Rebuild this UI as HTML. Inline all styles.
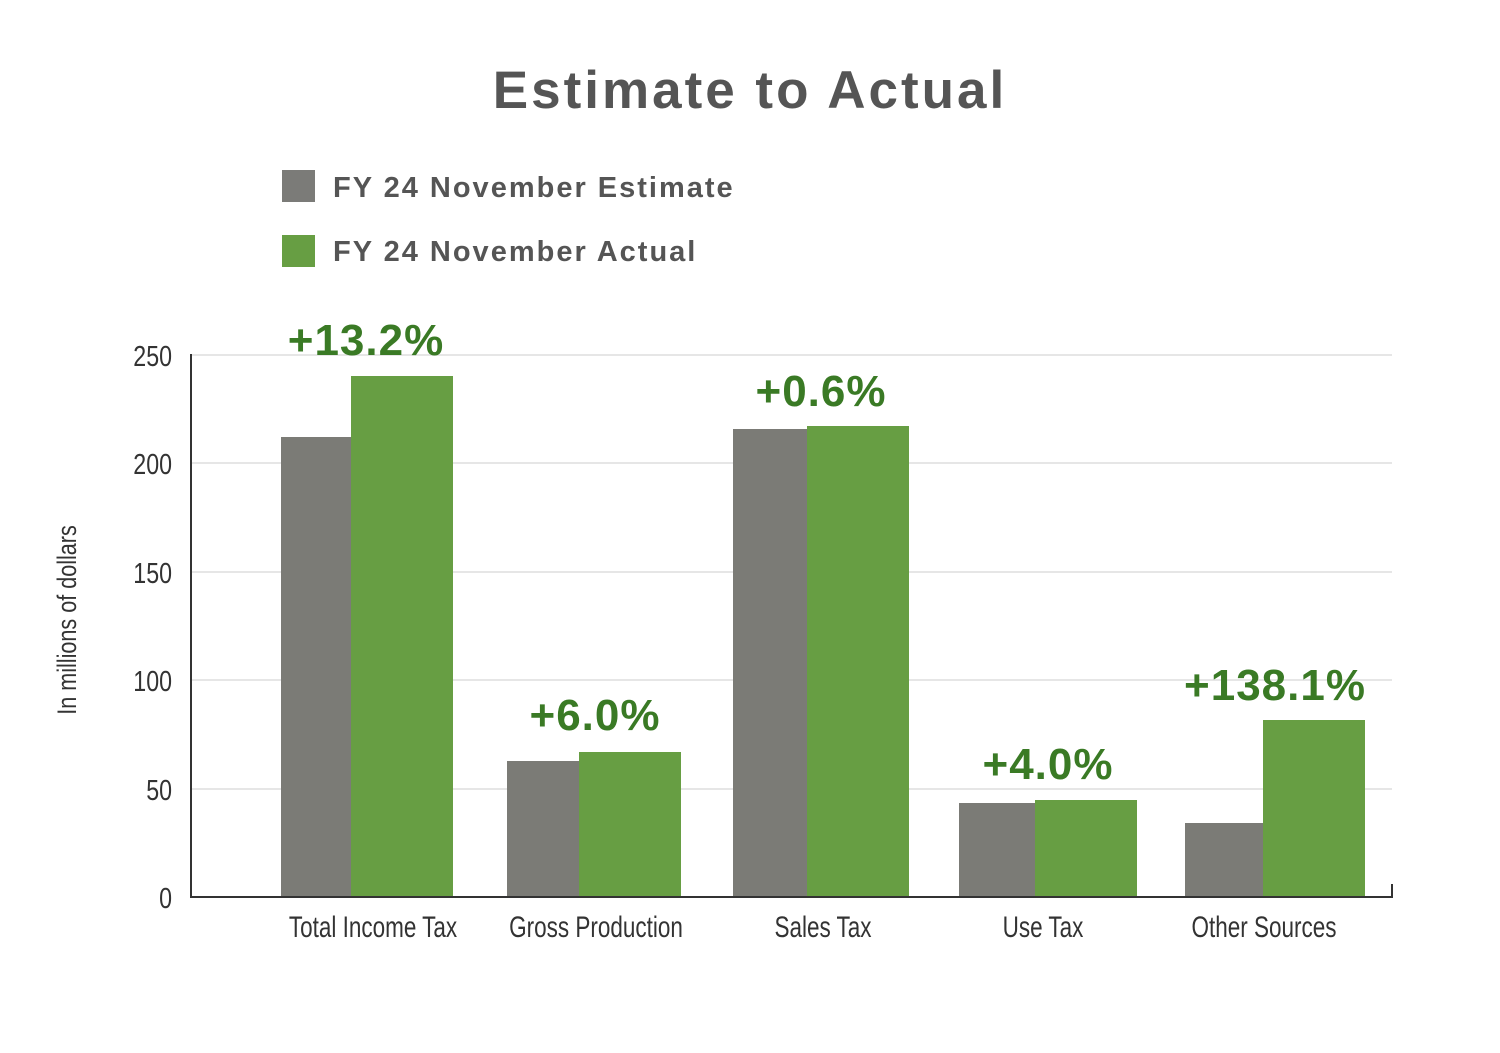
<!DOCTYPE html>
<html><head><meta charset="utf-8"><style>
html,body{margin:0;padding:0;background:#fff;}
svg{display:block;}
</style></head><body>
<svg width="1500" height="1053" viewBox="0 0 1500 1053" xmlns="http://www.w3.org/2000/svg">
<rect width="1500" height="1053" fill="#fff"/>
<text x="750" y="108" text-anchor="middle" font-family="Liberation Sans, sans-serif" font-weight="bold" font-size="53" letter-spacing="3" fill="#555555">Estimate to Actual</text>
<rect x="282" y="170" width="33" height="32" fill="#7b7b78"/>
<text x="333" y="197" font-family="Liberation Sans, sans-serif" font-weight="bold" font-size="29" letter-spacing="2" fill="#555555">FY 24 November Estimate</text>
<rect x="282" y="235" width="33" height="32" fill="#679e43"/>
<text x="333" y="261" font-family="Liberation Sans, sans-serif" font-weight="bold" font-size="29" letter-spacing="2" fill="#555555">FY 24 November Actual</text>
<g stroke="#e6e6e6" stroke-width="2">
<line x1="191" y1="355" x2="1392" y2="355"/>
<line x1="191" y1="463" x2="1392" y2="463"/>
<line x1="191" y1="572" x2="1392" y2="572"/>
<line x1="191" y1="680" x2="1392" y2="680"/>
<line x1="191" y1="789" x2="1392" y2="789"/>
</g>
<g fill="#7b7b76">
<rect x="281" y="437" width="70" height="460"/>
<rect x="507" y="761" width="72" height="136"/>
<rect x="733" y="429" width="74" height="468"/>
<rect x="959" y="803" width="76" height="94"/>
<rect x="1185" y="823" width="78" height="74"/>
</g>
<g fill="#679e43">
<rect x="351" y="376" width="102" height="521"/>
<rect x="579" y="752" width="102" height="145"/>
<rect x="807" y="426" width="102" height="471"/>
<rect x="1035" y="800" width="102" height="97"/>
<rect x="1263" y="720" width="102" height="177"/>
</g>
<g stroke="#333" stroke-width="2">
<line x1="191" y1="354" x2="191" y2="898"/>
<line x1="190" y1="897" x2="1393" y2="897"/>
<line x1="1392" y1="884" x2="1392" y2="898"/>
</g>
<g font-family="Liberation Sans, sans-serif" font-size="29" fill="#333" text-anchor="end">
<g transform="translate(172,0) scale(0.8,1)">
<text x="0" y="366">250</text>
<text x="0" y="474">200</text>
<text x="0" y="583">150</text>
<text x="0" y="691">100</text>
<text x="0" y="800">50</text>
<text x="0" y="908">0</text>
</g>
</g>
<text transform="translate(76,620) rotate(-90) scale(0.8,1)" text-anchor="middle" font-family="Liberation Sans, sans-serif" font-size="27" fill="#333">In millions of dollars</text>
<g font-family="Liberation Sans, sans-serif" font-size="30" fill="#333" text-anchor="middle">
<text transform="translate(373,937) scale(0.75,1)">Total Income Tax</text>
<text transform="translate(596,937) scale(0.75,1)">Gross Production</text>
<text transform="translate(823,937) scale(0.75,1)">Sales Tax</text>
<text transform="translate(1043,937) scale(0.75,1)">Use Tax</text>
<text transform="translate(1264,937) scale(0.75,1)">Other Sources</text>
</g>
<g font-family="Liberation Sans, sans-serif" font-weight="bold" font-size="44" fill="#3a7a25" text-anchor="middle" letter-spacing="1">
<text x="366" y="355">+13.2%</text>
<text x="595" y="730">+6.0%</text>
<text x="821" y="406">+0.6%</text>
<text x="1048" y="779">+4.0%</text>
<text x="1275" y="700">+138.1%</text>
</g>
</svg>
</body></html>
